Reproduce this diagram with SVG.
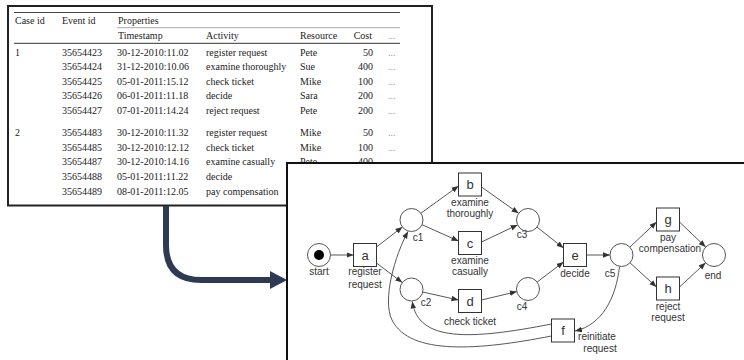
<svg xmlns="http://www.w3.org/2000/svg" width="744" height="360" viewBox="0 0 744 360">
  <style>
    .tt { font-family: "Liberation Serif", "Times New Roman", serif; font-size: 10px; fill: #222; }
    .dots { font-family: "Liberation Serif", serif; font-size: 10px; fill: #999; }
    .lbl { font-family: "Liberation Sans", Arial, sans-serif; font-size: 10px; fill: #333; text-anchor: middle; }
    .sym { font-family: "Liberation Sans", Arial, sans-serif; font-size: 13px; fill: #333; text-anchor: middle; }
    .place { fill: #fff; stroke: #555; stroke-width: 1; }
    .trans { fill: #fff; stroke: #333; stroke-width: 1; }
    .arc { fill: none; stroke: #444; stroke-width: 0.9; marker-end: url(#ah); }
    .num { text-anchor: end; }
  </style>
  <defs>
    <marker id="ah" viewBox="0 0 10 10" refX="10" refY="5" markerWidth="7" markerHeight="7" markerUnits="userSpaceOnUse" orient="auto">
      <path d="M0,1 L10,5 L0,9 Z" fill="#333"/>
    </marker>
  </defs>

  <rect width="744" height="360" fill="#fff"/>

  <!-- event log table -->
  <g id="event-log">
    <rect x="8" y="6" width="424" height="199.5" fill="#fff" stroke="#222" stroke-width="2"/>
    <line x1="14" y1="12.5" x2="400" y2="12.5" stroke="#444" stroke-width="1"/>
    <line x1="117" y1="27.7" x2="400" y2="27.7" stroke="#aaa" stroke-width="1"/>
    <line x1="14" y1="43.3" x2="400" y2="43.3" stroke="#333" stroke-width="1"/>
    <g class="tt">
      <text x="15" y="23.5">Case id</text>
      <text x="62" y="23.5">Event id</text>
      <text x="118" y="23.5">Properties</text>
      <text x="118" y="38.5">Timestamp</text>
      <text x="206" y="38.5">Activity</text>
      <text x="300" y="38.5">Resource</text>
      <text x="372" y="38.5" class="num">Cost</text>

      <text x="15" y="55.5">1</text>
      <text x="62" y="55.5">35654423</text><text x="117" y="55.5">30-12-2010:11.02</text><text x="206" y="55.5">register request</text><text x="300" y="55.5">Pete</text><text x="373" y="55.5" class="num">50</text>
      <text x="62" y="70">35654424</text><text x="117" y="70">31-12-2010:10.06</text><text x="206" y="70">examine thoroughly</text><text x="300" y="70">Sue</text><text x="373" y="70" class="num">400</text>
      <text x="62" y="84.7">35654425</text><text x="117" y="84.7">05-01-2011:15.12</text><text x="206" y="84.7">check ticket</text><text x="300" y="84.7">Mike</text><text x="373" y="84.7" class="num">100</text>
      <text x="62" y="99.3">35654426</text><text x="117" y="99.3">06-01-2011:11.18</text><text x="206" y="99.3">decide</text><text x="300" y="99.3">Sara</text><text x="373" y="99.3" class="num">200</text>
      <text x="62" y="114">35654427</text><text x="117" y="114">07-01-2011:14.24</text><text x="206" y="114">reject request</text><text x="300" y="114">Pete</text><text x="373" y="114" class="num">200</text>

      <text x="15" y="136">2</text>
      <text x="62" y="136">35654483</text><text x="117" y="136">30-12-2010:11.32</text><text x="206" y="136">register request</text><text x="300" y="136">Mike</text><text x="373" y="136" class="num">50</text>
      <text x="62" y="150.7">35654485</text><text x="117" y="150.7">30-12-2010:12.12</text><text x="206" y="150.7">check ticket</text><text x="300" y="150.7">Mike</text><text x="373" y="150.7" class="num">100</text>
      <text x="62" y="165.2">35654487</text><text x="117" y="165.2">30-12-2010:14.16</text><text x="206" y="165.2">examine casually</text><text x="300" y="165.2">Pete</text><text x="373" y="165.2" class="num">400</text>
      <text x="62" y="179.8">35654488</text><text x="117" y="179.8">05-01-2011:11.22</text><text x="206" y="179.8">decide</text>
      <text x="62" y="194.5">35654489</text><text x="117" y="194.5">08-01-2011:12.05</text><text x="206" y="194.5">pay compensation</text>
    </g>
    <g class="dots">
      <text x="388" y="38.5">...</text>
      <text x="388" y="55.5">...</text>
      <text x="388" y="70">...</text>
      <text x="388" y="84.7">...</text>
      <text x="388" y="99.3">...</text>
      <text x="388" y="114">...</text>
      <text x="388" y="136">...</text>
      <text x="388" y="150.7">...</text>
    </g>
  </g>

  <!-- thick arrow from log to model -->
  <g id="discovery-arrow">
    <path d="M166,206 L166,245 Q166,280 201,280 L272,280" fill="none" stroke="#2d3a52" stroke-width="6"/>
    <polygon points="270,271 287,280 270,289" fill="#2d3a52"/>
  </g>

  <!-- process model panel -->
  <rect x="287" y="163" width="470" height="210" fill="#fff" stroke="#111" stroke-width="2"/>

  <g id="connectors">
    <line class="arc" x1="330.5" y1="255" x2="353.5" y2="255"/>
    <line class="arc" x1="376.5" y1="247" x2="402.4" y2="227"/>
    <line class="arc" x1="376.5" y1="263" x2="402.3" y2="282.6"/>
    <line class="arc" x1="420.8" y1="213.3" x2="458.5" y2="186"/>
    <line class="arc" x1="422" y1="224.7" x2="458.5" y2="241"/>
    <line class="arc" x1="422.7" y1="292" x2="458.5" y2="300"/>
    <line class="arc" x1="481.5" y1="187" x2="518.6" y2="213.3"/>
    <line class="arc" x1="481.5" y1="242" x2="517.6" y2="224.9"/>
    <line class="arc" x1="481.5" y1="300" x2="516.8" y2="291.6"/>
    <line class="arc" x1="537" y1="227.1" x2="563.5" y2="248"/>
    <line class="arc" x1="537.2" y1="282" x2="563.5" y2="262"/>
    <line class="arc" x1="586.5" y1="255" x2="610" y2="255"/>
    <line class="arc" x1="629.9" y1="247.1" x2="656.5" y2="222"/>
    <line class="arc" x1="630" y1="262.8" x2="656.5" y2="287"/>
    <line class="arc" x1="679.5" y1="222" x2="705.7" y2="247"/>
    <line class="arc" x1="679.5" y1="287" x2="705.6" y2="262.8"/>
    <path class="arc" d="M619.5,266.5 C616,298 602,325 575,331"/>
    <path class="arc" d="M551.5,324 C470,340 418,342 412.3,301.5"/>
    <path class="arc" d="M551.5,336 C480,350 410,356 392,320 C382,300 395,255 408,231.5"/>
  </g>

  <g id="start">
    <circle class="place" cx="319" cy="255" r="11.5"/>
    <circle cx="319" cy="255" r="5" fill="#000"/>
    <text class="lbl" x="319" y="275">start</text>
  </g>
  <g id="a">
    <rect class="trans" x="353.5" y="243.5" width="23" height="23"/>
    <text class="sym" x="365" y="259.5">a</text>
    <text class="lbl" x="365" y="275">register</text>
    <text class="lbl" x="365" y="287.5">request</text>
  </g>
  <g id="c1">
    <circle class="place" cx="411.5" cy="220" r="11.5"/>
    <text class="lbl" x="418" y="240.5">c1</text>
  </g>
  <g id="c2">
    <circle class="place" cx="411.5" cy="289.5" r="11.5"/>
    <text class="lbl" x="426" y="306">c2</text>
  </g>
  <g id="b">
    <rect class="trans" x="458.5" y="173" width="23" height="23"/>
    <text class="sym" x="470" y="189">b</text>
    <text class="lbl" x="470" y="206">examine</text>
    <text class="lbl" x="470" y="217">thoroughly</text>
  </g>
  <g id="c">
    <rect class="trans" x="458.5" y="231.5" width="23" height="23"/>
    <text class="sym" x="470" y="247.5">c</text>
    <text class="lbl" x="470" y="263.5">examine</text>
    <text class="lbl" x="470" y="274.5">casually</text>
  </g>
  <g id="d">
    <rect class="trans" x="458.5" y="289.5" width="23" height="23"/>
    <text class="sym" x="470" y="305.5">d</text>
    <text class="lbl" x="470" y="325">check ticket</text>
  </g>
  <g id="c3">
    <circle class="place" cx="528" cy="220" r="11.5"/>
    <text class="lbl" x="522" y="237.5">c3</text>
  </g>
  <g id="c4">
    <circle class="place" cx="528" cy="289" r="11.5"/>
    <text class="lbl" x="522" y="309.5">c4</text>
  </g>
  <g id="e">
    <rect class="trans" x="563.5" y="243.5" width="23" height="23"/>
    <text class="sym" x="575" y="259.5">e</text>
    <text class="lbl" x="575" y="277">decide</text>
  </g>
  <g id="c5">
    <circle class="place" cx="621.5" cy="255" r="11.5"/>
    <text class="lbl" x="610" y="277">c5</text>
  </g>
  <g id="g">
    <rect class="trans" x="656.5" y="208" width="23" height="23"/>
    <text class="sym" x="668" y="224">g</text>
    <text class="lbl" x="668" y="241">pay</text>
    <text class="lbl" x="670" y="252">compensation</text>
  </g>
  <g id="h">
    <rect class="trans" x="656.5" y="277" width="23" height="23"/>
    <text class="sym" x="668" y="293">h</text>
    <text class="lbl" x="668" y="310">reject</text>
    <text class="lbl" x="668" y="321">request</text>
  </g>
  <g id="end">
    <circle class="place" cx="714" cy="255" r="11.5"/>
    <text class="lbl" x="713" y="278.5">end</text>
  </g>
  <g id="f">
    <rect class="trans" x="551.5" y="319" width="23" height="23"/>
    <text class="sym" x="563" y="335">f</text>
    <text class="lbl" x="597" y="340">reinitiate</text>
    <text class="lbl" x="600" y="351.5">request</text>
  </g>
</svg>
